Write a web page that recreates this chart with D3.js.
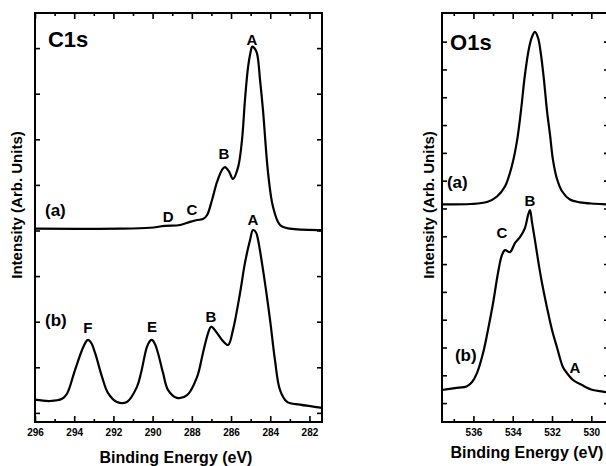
<!DOCTYPE html>
<html>
<head>
<meta charset="utf-8">
<script src="https://cdn.jsdelivr.net/npm/d3@7"></script>
<style>
  body { margin: 0; background: #fff; }
  svg { display: block; }
  text { font-family: "Liberation Sans", Arial, sans-serif; font-weight: bold; fill: #000; }
</style>
</head>
<body>
<svg id="chart" width="606" height="466"></svg>
<script>
// C1s spectra (binding energy in eV, intensity in arb. units)
const c1sEnergyA = [296.00, 291.66, 290.13, 289.37, 288.60, 288.09, 287.73, 287.43, 287.22, 286.97, 286.71, 286.46, 286.31, 286.10, 285.90, 285.64, 285.44, 285.29, 285.13, 284.98, 284.93, 284.83, 284.68, 284.52, 284.37, 284.11, 283.86, 283.50, 282.99, 281.36]
const c1sIntensityA = [4.04, 4.04, 4.06, 4.10, 4.12, 4.19, 4.23, 4.25, 4.34, 4.67, 5.07, 5.33, 5.39, 5.29, 5.13, 5.39, 5.99, 6.86, 7.59, 7.96, 8.03, 8.01, 7.89, 7.30, 6.64, 5.26, 4.52, 4.12, 4.04, 4.01]

const c1sEnergyB = [296.00, 295.23, 294.62, 294.37, 293.96, 293.60, 293.40, 293.30, 293.14, 292.94, 292.58, 292.28, 291.82, 291.31, 290.80, 290.59, 290.29, 290.13, 290.03, 289.88, 289.73, 289.47, 289.21, 288.76, 288.24, 287.73, 287.43, 287.17, 287.02, 286.87, 286.71, 286.46, 286.15, 285.90, 285.54, 285.29, 285.03, 284.88, 284.72, 284.62, 284.37, 284.01, 283.76, 283.50, 283.14, 282.48, 281.36]
const c1sIntensityB = [0.29, 0.26, 0.31, 0.42, 0.94, 1.38, 1.56, 1.60, 1.54, 1.32, 0.79, 0.44, 0.24, 0.24, 0.57, 0.88, 1.45, 1.58, 1.60, 1.51, 1.32, 0.88, 0.50, 0.33, 0.39, 0.79, 1.32, 1.75, 1.89, 1.84, 1.75, 1.60, 1.49, 1.82, 2.63, 3.29, 3.79, 4.01, 3.95, 3.79, 3.14, 2.04, 1.16, 0.50, 0.24, 0.18, 0.11]

// O1s spectra
const o1sEnergyA = [537.60, 536.17, 535.31, 534.80, 534.39, 534.04, 533.78, 533.58, 533.38, 533.17, 533.02, 532.87, 532.71, 532.56, 532.41, 532.26, 532.10, 531.95, 531.75, 531.49, 531.09, 530.58, 529.81, 529.10]
const o1sIntensityA = [7.15, 7.16, 7.23, 7.43, 7.80, 8.54, 9.44, 10.52, 11.80, 12.77, 13.17, 13.35, 13.13, 12.52, 11.62, 10.54, 9.64, 8.74, 8.07, 7.62, 7.32, 7.22, 7.17, 7.14]

const o1sEnergyB = [537.60, 536.94, 536.33, 536.07, 535.82, 535.51, 535.26, 535.00, 534.75, 534.55, 534.39, 534.14, 533.88, 533.63, 533.38, 533.22, 533.12, 533.02, 532.87, 532.71, 532.51, 532.26, 532.00, 531.75, 531.44, 531.24, 530.93, 530.48, 529.92, 529.30, 529.10]
const o1sIntensityB = [0.47, 0.54, 0.61, 0.76, 1.08, 1.80, 2.63, 3.60, 4.68, 5.32, 5.50, 5.43, 5.76, 5.97, 6.29, 6.76, 6.94, 6.51, 5.86, 5.14, 4.32, 3.45, 2.63, 2.01, 1.29, 1.08, 0.83, 0.65, 0.47, 0.40, 0.32]

// axis ticks
const c1sMajorTicks = [296, 294, 292, 290, 288, 286, 284, 282]
const c1sMinorTicks = [295, 293, 291, 289, 287, 285, 283]
const c1sIntensityTicks = [0, 1, 2, 3, 4, 5, 6, 7, 8]
const o1sMajorTicks = [536, 534, 532, 530]
const o1sMinorTicks = [537, 535, 533, 531, 529]
const o1sIntensityTicks = [0, 1, 2, 3, 4, 5, 6, 7, 8, 9, 10, 11, 12, 13]

// annotations: [text, energy, intensity, anchor, size]
const c1sLabels = [
  ['C1s', 295.34, 8.2, 'start', 22],
  ['(a)', 295.49, 4.45, 'start', 17],
  ['(b)', 295.49, 2.04, 'start', 17],
  ['A', 284.93, 8.18, 'middle', 15],
  ['B', 286.36, 5.68, 'middle', 15],
  ['C', 287.99, 4.45, 'middle', 15],
  ['D', 289.21, 4.30, 'middle', 15],
  ['A', 284.88, 4.23, 'middle', 15],
  ['B', 287.02, 2.11, 'middle', 15],
  ['E', 290.03, 1.89, 'middle', 15],
  ['F', 293.30, 1.86, 'middle', 15]
]
const o1sLabels = [
  ['O1s', 537.19, 12.99, 'start', 22],
  ['(a)', 537.35, 7.95, 'start', 17],
  ['(b)', 536.94, 1.73, 'start', 17],
  ['B', 533.12, 7.30, 'middle', 15],
  ['C', 534.55, 6.12, 'middle', 15],
  ['A', 530.83, 1.29, 'middle', 15]
]

const svg = d3.select('#chart')

function drawPanel(p) {
  const x = d3.scaleLinear().domain(p.xDomain).range([p.left, p.right])
  const y = d3.scaleLinear().domain(p.yDomain).range([p.bottom, p.top])
  const g = svg.append('g')

  const tidy = sel => {
    sel.select('.domain').remove()
    sel.selectAll('line').attr('stroke', '#000').attr('stroke-width', 1.6)
  }

  g.append('g').attr('transform', `translate(0,${p.bottom})`)
    .call(d3.axisBottom(x).tickValues(p.major).tickSize(-6).tickPadding(7).tickFormat(d3.format('d')))
    .call(tidy)
    .selectAll('text').attr('font-size', 10).attr('font-family', '"Liberation Sans", Arial, sans-serif').attr('font-weight', 'bold')
  g.append('g').attr('transform', `translate(0,${p.bottom})`)
    .call(d3.axisBottom(x).tickValues(p.minor).tickSize(-3).tickFormat(''))
    .call(tidy)
  g.append('g').attr('transform', `translate(0,${p.top})`)
    .call(d3.axisTop(x).tickValues(p.major).tickSize(-6).tickFormat(''))
    .call(tidy)
  g.append('g').attr('transform', `translate(0,${p.top})`)
    .call(d3.axisTop(x).tickValues(p.minor).tickSize(-3).tickFormat(''))
    .call(tidy)
  g.append('g').attr('transform', `translate(${p.left},0)`)
    .call(d3.axisLeft(y).tickValues(p.yTicks).tickSize(-5).tickFormat(''))
    .call(tidy)
  g.append('g').attr('transform', `translate(${p.right},0)`)
    .call(d3.axisRight(y).tickValues(p.yTicks).tickSize(-5).tickFormat(''))
    .call(tidy)

  g.append('rect')
    .attr('x', p.left).attr('y', p.top)
    .attr('width', p.right - p.left).attr('height', p.bottom - p.top)
    .attr('fill', 'none').attr('stroke', '#000').attr('stroke-width', 2)

  const line = d3.line()
    .x(d => x(d[0]))
    .y(d => y(d[1]))
    .curve(d3.curveCatmullRom.alpha(0.5))

  p.series.forEach(s => {
    g.append('path')
      .datum(d3.zip(s[0], s[1]))
      .attr('d', line)
      .attr('fill', 'none')
      .attr('stroke', '#000')
      .attr('stroke-width', 2.2)
      .attr('stroke-linejoin', 'round')
  })

  g.selectAll('text.lbl')
    .data(p.labels)
    .enter()
    .append('text')
    .attr('class', 'lbl')
    .attr('x', d => x(d[1]))
    .attr('y', d => y(d[2]))
    .attr('dy', '0.36em')
    .attr('text-anchor', d => d[3])
    .attr('font-size', d => d[4])
    .text(d => d[0])

  g.append('text')
    .attr('transform', `translate(${p.yLabelX},205) rotate(-90)`)
    .attr('text-anchor', 'middle')
    .attr('dy', '0.36em')
    .attr('font-size', 15)
    .text('Intensity (Arb. Units)')

  g.append('text')
    .attr('x', p.xLabelX)
    .attr('y', p.xLabelY)
    .attr('dy', '0.36em')
    .attr('text-anchor', 'middle')
    .attr('font-size', 16)
    .text('Binding Energy (eV)')
}

drawPanel({
  left: 35, right: 322, top: 13, bottom: 422,
  xDomain: [296, 281.36], yDomain: [-0.2, 8.77],
  major: c1sMajorTicks, minor: c1sMinorTicks, yTicks: c1sIntensityTicks,
  series: [[c1sEnergyA, c1sIntensityA], [c1sEnergyB, c1sIntensityB]],
  labels: c1sLabels,
  yLabelX: 17, xLabelX: 176, xLabelY: 457
})

drawPanel({
  left: 442, right: 609, top: 13, bottom: 422,
  xDomain: [537.6, 529.1], yDomain: [-0.68, 14.03],
  major: o1sMajorTicks, minor: o1sMinorTicks, yTicks: o1sIntensityTicks,
  series: [[o1sEnergyA, o1sIntensityA], [o1sEnergyB, o1sIntensityB]],
  labels: o1sLabels,
  yLabelX: 429, xLabelX: 527, xLabelY: 452
})
</script>
</body>
</html>
